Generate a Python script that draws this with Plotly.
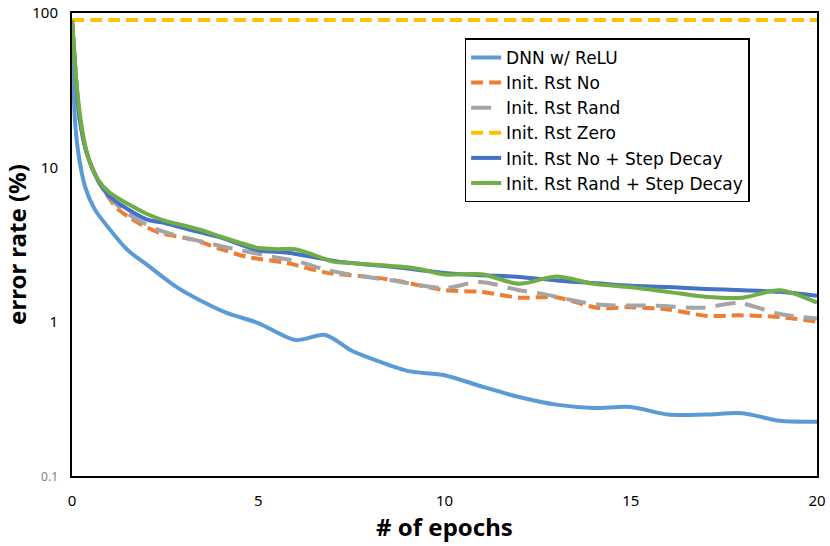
import plotly.graph_objects as go

# epochs and error rates (%)
dnn_x = [0, 0.03, 0.08, 0.17, 0.35, 0.6, 1, 1.5, 2, 2.8, 3.5, 4.15, 5, 6, 6.8, 7.5, 8, 9, 10, 11, 12, 13, 14, 15, 16, 17, 18, 19, 20]
dnn_y = [90, 40, 20, 12.4, 7.5, 5.4, 4.0, 2.9, 2.35, 1.68, 1.35, 1.14, 0.98, 0.76, 0.82, 0.65, 0.58, 0.48, 0.45, 0.38, 0.325, 0.29, 0.276, 0.28, 0.25, 0.25, 0.255, 0.228, 0.225]

rst_no_x = [0, 0.05, 0.1, 0.2, 0.4, 0.7, 1, 1.2, 1.5, 1.83, 2.36, 3.25, 4, 4.7, 5.77, 6.85, 7.73, 8.63, 10, 11, 12, 13, 14.1, 15, 16, 17.05, 17.9, 19, 20]
rst_no_y = [90, 60, 40, 21, 12.3, 8.2, 6.3, 5.45, 4.8, 4.3, 3.76, 3.4, 2.95, 2.63, 2.4, 2.07, 1.98, 1.86, 1.6, 1.56, 1.43, 1.44, 1.23, 1.24, 1.2, 1.09, 1.1, 1.07, 1.0]

rst_rand_x = [0, 0.05, 0.1, 0.2, 0.4, 0.7, 1, 1.5, 2.36, 3.9, 5.4, 6.1, 6.85, 7.7, 8.6, 10, 10.95, 12, 12.6, 14.1, 15.7, 16.9, 17.9, 19, 20]
rst_rand_y = [90, 60, 40, 21, 12.3, 8.2, 6.4, 5.0, 3.9, 3.13, 2.63, 2.44, 2.16, 1.98, 1.85, 1.65, 1.81, 1.6, 1.52, 1.29, 1.27, 1.23, 1.32, 1.12, 1.05]

rst_zero_x = [0, 1, 2, 3, 4, 5, 6, 7, 8, 9, 10, 11, 12, 13, 14, 15, 16, 17, 18, 19, 20]
rst_zero_y = [90, 90, 90, 90, 90, 90, 90, 90, 90, 90, 90, 90, 90, 90, 90, 90, 90, 90, 90, 90, 90]

no_step_x = [0, 0.05, 0.1, 0.2, 0.4, 0.7, 1, 2, 2.4, 3.25, 4, 5, 5.8, 7.2, 8.6, 10, 11, 12, 13, 14, 15, 16, 17, 18, 19, 20]
no_step_y = [90, 60, 40, 21, 12.3, 8.2, 6.5, 4.6, 4.4, 3.9, 3.5, 2.9, 2.8, 2.44, 2.27, 2.07, 2.0, 1.95, 1.85, 1.78, 1.71, 1.68, 1.63, 1.6, 1.56, 1.47]

rand_step_x = [0, 0.05, 0.1, 0.17, 0.25, 0.4, 0.7, 1, 1.5, 2, 2.5, 3, 3.5, 4, 4.5, 5, 5.5, 6, 6.5, 7, 7.5, 8, 8.5, 9, 9.5, 10, 11, 12, 13, 14, 15, 16, 17, 18, 19, 20]
rand_step_y = [90, 60, 40, 27, 19, 12.4, 8.3, 6.9, 5.8, 5.0, 4.5, 4.2, 3.9, 3.55, 3.25, 3.0, 2.95, 2.95, 2.7, 2.45, 2.4, 2.35, 2.3, 2.25, 2.15, 2.02, 2.03, 1.76, 1.96, 1.76, 1.67, 1.56, 1.45, 1.43, 1.6, 1.33]

x_ticks = [0, 5, 10, 15, 20]
y_ticks = [0.1, 1, 10, 100]
y_tick_text = ["<span style='font-size:12px;color:#7f7f7f'>0.1</span>", "1", "10", "100"]

series = [
    ("DNN w/ ReLU", dnn_x, dnn_y, "#5B9BD5", "solid"),
    ("Init. Rst No", rst_no_x, rst_no_y, "#ED7D31", "12px,6px"),
    ("Init. Rst Rand", rst_rand_x, rst_rand_y, "#A5A5A5", "20px,10px"),
    ("Init. Rst Zero", rst_zero_x, rst_zero_y, "#FFC000", "12px,6px"),
    ("Init. Rst No + Step Decay", no_step_x, no_step_y, "#4472C4", "solid"),
    ("Init. Rst Rand + Step Decay", rand_step_x, rand_step_y, "#70AD47", "solid"),
]

fig = go.Figure()
for name, xs, ys, color, dash in series:
    fig.add_trace(go.Scatter(
        x=xs,
        y=ys,
        name=name,
        mode="lines",
        line=dict(color=color, width=4, dash=dash, shape="spline", smoothing=0.8)
    ))

fig.update_layout(
    width=830,
    height=546,
    margin=dict(l=72, r=13, t=13, b=70),
    paper_bgcolor="white",
    plot_bgcolor="white",
    font=dict(family="Noto Sans", size=15, color="black"),
    showlegend=True,
    legend=dict(
        x=0.527, y=0.945, xanchor="left", yanchor="top",
        bordercolor="black", borderwidth=1.5,
        bgcolor="white",
        font=dict(family="DejaVu Sans", size=17),
        tracegroupgap=0,
    ),
    xaxis=dict(
        range=[0, 20],
        tickvals=x_ticks,
        showgrid=False,
        zeroline=False,
        showline=True,
        linecolor="black",
        linewidth=2,
        mirror=True,
        ticks="",
        ticklabelstandoff=10,
        automargin=False,
        title=dict(text="<b># of epochs</b>", font=dict(size=24), standoff=0),
    ),
    yaxis=dict(
        type="log",
        range=[-1, 2],
        tickvals=y_ticks,
        ticktext=y_tick_text,
        showgrid=False,
        zeroline=False,
        showline=True,
        linecolor="black",
        linewidth=2,
        mirror=True,
        ticks="",
        ticklabelstandoff=9,
        automargin=False,
        title=dict(text="<b>error rate (%)</b>", font=dict(size=24), standoff=0),
    ),
)

# drop the browser's default page margin so the figure sits at the window corner
fig.write_html("out.html", config={"displayModeBar": False},
               post_script="document.body.style.margin='0';")
